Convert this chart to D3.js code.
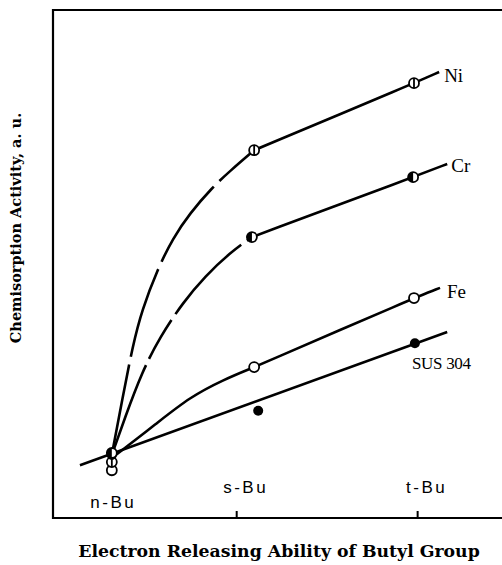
<!DOCTYPE html>
<html>
<head>
<meta charset="utf-8">
<script src="https://cdn.jsdelivr.net/npm/d3@7"></script>
<style>
  body { margin: 0; background: #fff; }
  svg { display: block; }
</style>
</head>
<body>
<div id="main"></div>
<script>

// datas (arbitrary units)

const tickValues = [1.31, 4.08, 8.11];
const tickLabels = ['n-Bu', 's-Bu', 't-Bu'];

// dashed part, n-Bu -> s-Bu
const niCurveX = [1.31, 1.54, 1.78, 1.98, 2.32, 2.67, 3.05, 3.54, 3.94, 4.48];
const niCurveY = [1.24, 2.32, 3.41, 4.09, 4.88, 5.51, 6.00, 6.50, 6.83, 7.24];
// solid part, s-Bu -> end
const niLineX = [4.48, 8.04, 8.60];
const niLineY = [7.24, 8.56, 8.78];

const crCurveX = [1.31, 1.60, 1.98, 2.38, 2.90, 3.39, 3.94, 4.43];
const crCurveY = [1.24, 1.97, 2.87, 3.56, 4.25, 4.76, 5.22, 5.53];
const crLineX = [4.43, 8.02, 8.78];
const crLineY = [5.53, 6.71, 6.97];

const feCurveX = [1.31, 2.32, 3.05, 3.79, 4.48];
const feCurveY = [1.18, 1.87, 2.38, 2.72, 2.97];
const feLineX = [4.48, 8.04, 8.62];
const feLineY = [2.97, 4.33, 4.53];

const susLineX = [0.60, 8.78];
const susLineY = [1.04, 3.66];

// measured points
const niPointX = [1.31, 4.48, 8.04];
const niPointY = [1.10, 7.24, 8.56];
const crPointX = [1.31, 4.43, 8.02];
const crPointY = [1.28, 5.53, 6.71];
const fePointX = [1.31, 4.48, 8.04];
const fePointY = [0.94, 2.97, 4.33];
const susPointX = [1.31, 4.57, 8.06];
const susPointY = [1.24, 2.11, 3.44];

const seriesNames = ['Ni', 'Cr', 'Fe', 'SUS 304'];


const w = 502;
const h = 565;
const margin = { top: 10, right: 0, bottom: 47, left: 53 };

const svg = d3.select('#main').append('svg').attr('width', w).attr('height', h);

const x = d3.scaleLinear().domain([0, 10]).range([margin.left, w - margin.right]);
const y = d3.scaleLinear().domain([0, 10]).range([h - margin.bottom, margin.top]);

const zip = (xs, ys) => xs.map((d, i) => [d, ys[i]]);

const smooth = d3.line().x(d => x(d[0])).y(d => y(d[1])).curve(d3.curveBasis);
const straight = d3.line().x(d => x(d[0])).y(d => y(d[1]));

const plot = svg.append('g')
    .attr('fill', 'none')
    .attr('stroke', '#000')
    .attr('stroke-width', 2.6)
    .attr('stroke-linecap', 'butt');


// curves

plot.append('path').attr('d', smooth(zip(niCurveX, niCurveY))).attr('stroke-dasharray', '92,8');
plot.append('path').attr('d', smooth(zip(niLineX, niLineY)));

plot.append('path').attr('d', smooth(zip(crCurveX, crCurveY))).attr('stroke-dasharray', '96,7,45,7');
plot.append('path').attr('d', smooth(zip(crLineX, crLineY)));

plot.append('path').attr('d', smooth(zip(feCurveX, feCurveY)));
plot.append('path').attr('d', smooth(zip(feLineX, feLineY)));

plot.append('path').attr('d', straight(zip(susLineX, susLineY)));


// markers

const r = 5;

function addMarkers(xs, ys, kind) {
    const g = svg.append('g');
    zip(xs, ys).forEach(p => {
        const cx = x(p[0]), cy = y(p[1]);
        if (kind === 'half') {
            g.append('circle').attr('cx', cx).attr('cy', cy).attr('r', r)
                .attr('fill', '#fff').attr('stroke', '#000').attr('stroke-width', 1.8);
            g.append('path')
                .attr('d', `M${cx},${cy - r} A${r},${r} 0 0 0 ${cx},${cy + r} Z`)
                .attr('fill', '#000');
        } else if (kind === 'bar') {
            g.append('circle').attr('cx', cx).attr('cy', cy).attr('r', r)
                .attr('fill', '#fff').attr('stroke', '#000').attr('stroke-width', 1.8);
            g.append('line').attr('x1', cx).attr('x2', cx).attr('y1', cy - r).attr('y2', cy + r)
                .attr('stroke', '#000').attr('stroke-width', 1.8);
        } else if (kind === 'filled') {
            g.append('circle').attr('cx', cx).attr('cy', cy).attr('r', r).attr('fill', '#000');
        } else {
            g.append('circle').attr('cx', cx).attr('cy', cy).attr('r', r)
                .attr('fill', '#fff').attr('stroke', '#000').attr('stroke-width', 1.8);
        }
    });
}

addMarkers(fePointX, fePointY, 'open');
addMarkers(niPointX, niPointY, 'bar');
addMarkers(susPointX, susPointY, 'filled');
addMarkers(crPointX, crPointY, 'half');


// series labels

const labels = svg.append('g')
    .attr('font-family', '"Liberation Serif", "DejaVu Serif", serif')
    .attr('font-size', 19)
    .attr('fill', '#000');

labels.append('text').attr('x', x(niLineX[2]) + 5).attr('y', y(niLineY[2]) + 10).text(seriesNames[0]);
labels.append('text').attr('x', x(crLineX[2]) + 4).attr('y', y(crLineY[2]) + 8).text(seriesNames[1]);
labels.append('text').attr('x', x(feLineX[2]) + 7).attr('y', y(feLineY[2]) + 10).text(seriesNames[2]);
labels.append('text').attr('x', x(susPointX[2]) - 3).attr('y', y(susPointY[2]) + 26)
    .attr('font-size', 17).attr('letter-spacing', -0.3).text(seriesNames[3]);


// frame / axes

const xAxis = d3.axisBottom(x)
    .tickValues(tickValues)
    .tickSizeInner(-7)
    .tickSizeOuter(0)
    .tickFormat((d, i) => tickLabels[i]);

const gx = svg.append('g')
    .attr('transform', `translate(0,${h - margin.bottom})`)
    .call(xAxis);

gx.select('.domain').remove();
gx.selectAll('.tick line').attr('stroke', '#000').attr('stroke-width', 2)
    .filter((d, i) => i === 0).remove();
gx.selectAll('.tick text')
    .attr('font-family', '"Liberation Sans", "DejaVu Sans", sans-serif')
    .attr('font-size', 17)
    .attr('letter-spacing', 2.5)
    .attr('fill', '#000')
    .attr('dx', (d, i) => i === 0 ? 1 : 9)
    .attr('y', (d, i) => i === 0 ? -22 : -37);

svg.append('path')
    .attr('d', `M${w},${y(0)} H${x(0)} V${y(10)} H${w}`)
    .attr('fill', 'none')
    .attr('stroke', '#000')
    .attr('stroke-width', 2.2);


// titles

svg.append('text')
    .attr('x', 279)
    .attr('y', 557)
    .attr('text-anchor', 'middle')
    .attr('font-family', '"DejaVu Serif", serif')
    .attr('font-weight', 'bold')
    .attr('font-size', 17.3)
    .text('Electron Releasing Ability of Butyl Group');

svg.append('text')
    .attr('transform', 'translate(21,228) rotate(-90)')
    .attr('text-anchor', 'middle')
    .attr('font-family', '"DejaVu Serif", serif')
    .attr('font-weight', 'bold')
    .attr('font-size', 14.5)
    .text('Chemisorption Activity, a. u.');

</script>
</body>
</html>
